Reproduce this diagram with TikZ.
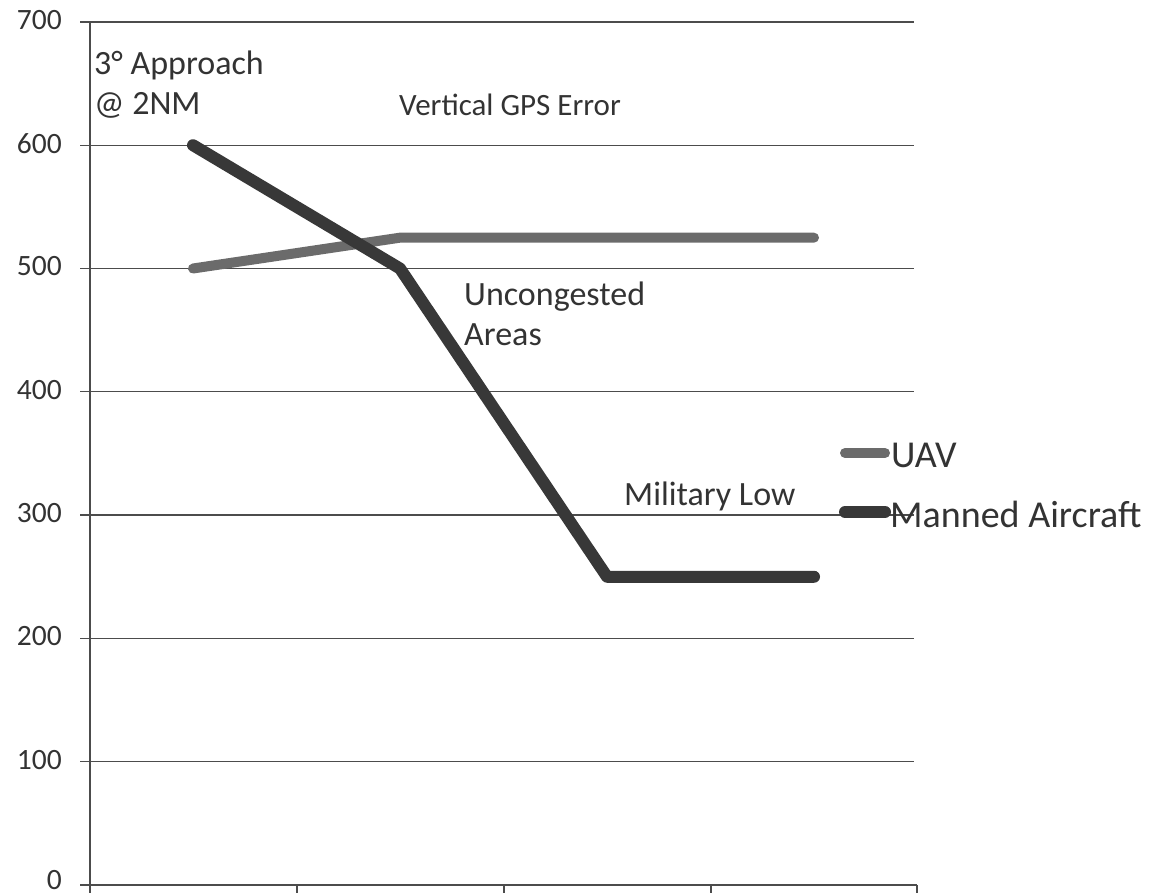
\documentclass[tikz,border=0pt]{standalone}
\usepackage{fontspec}
\setmainfont{Carlito}
\begin{document}
\begin{tikzpicture}[x=1pt,y=-1pt,
  grid/.style={draw=black!70,line width=1.3pt},
  axislbl/.style={anchor=east,font=\fontsize{29.5}{32}\selectfont,text=black!80,inner sep=0pt},
  note/.style={anchor=base west,font=\fontsize{34}{40}\selectfont,text=black!80,inner sep=0pt,align=left},
  legtxt/.style={anchor=west,font=\fontsize{38}{40}\selectfont,text=black!80,inner sep=0pt},
  uav/.style={draw=black!58,line width=10pt,line cap=round,line join=round},
  manned/.style={draw=black!78,line width=12pt,line cap=round,line join=round}]
\useasboundingbox (0,0) rectangle (1170,896);
% gridlines
\foreach \v in {1,...,7}{
  \draw[grid] (80,{885-123.3*\v}) -- (914,{885-123.3*\v});
  \node[axislbl] at (62,{883-123.3*\v}) {\the\numexpr\v*100\relax};
}
\node[axislbl] (z0) at (62,880) {0};
% axes
\draw[grid] (90,22) -- (90,893);
\draw[grid] (80,885) -- (917,885);
\foreach \x in {297,504,711,917}{\draw[grid] (\x,885) -- (\x,893);}
% data
\coordinate (u1) at (193,{885-1.233*500});
\coordinate (u2) at (400,{885-1.233*525});
\coordinate (u3) at (607,{885-1.233*525});
\coordinate (u4) at (814,{885-1.233*525});
\coordinate (m1) at (193,{885-1.233*600});
\coordinate (m2) at (400,{885-1.233*500});
\coordinate (m3) at (607,{885-1.233*250});
\coordinate (m4) at (814,{885-1.233*250});
\draw[uav] (u1) -- (u2) -- (u3) -- (u4);
\draw[manned] (m1) -- (m2) -- (m3) -- (m4);
% annotations (base = baseline of last line)
\node[note] (n1) at (94,115) {3° Approach\\@ 2NM};
\node[note,font=\fontsize{31}{38}\selectfont] (n2) at (399,116) {Vertical GPS Error};
\node[note] (n3) at (464,345) {Uncongested\\Areas};
\node[note] (n4) at (624,505) {Military Low};
% legend
\coordinate (l1a) at (845,453);
\coordinate (l1b) at (885,453);
\coordinate (l2a) at (845,512);
\coordinate (l2b) at (885,512);
\draw[uav] (l1a) -- (l1b);
\draw[manned] (l2a) -- (l2b);
\node[legtxt] (t1) at (891,455) {UAV};
\node[legtxt] (t2) at (890,514) {Manned Aircraft};
\end{tikzpicture}
\end{document}
